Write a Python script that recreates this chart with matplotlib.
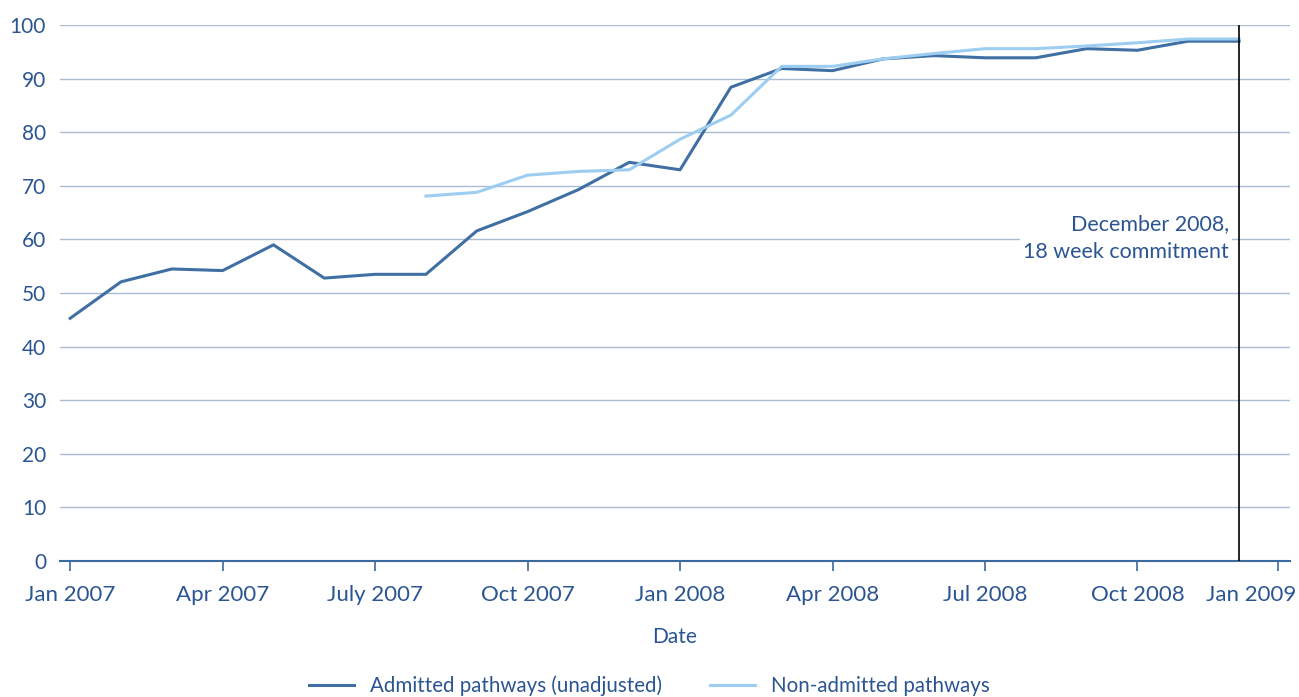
import matplotlib.pyplot as plt
import matplotlib.transforms as mtransforms
import numpy as np

months = ['Jan 2007', 'Feb 2007', 'Mar 2007', 'Apr 2007', 'May 2007', 'Jun 2007',
          'Jul 2007', 'Aug 2007', 'Sep 2007', 'Oct 2007', 'Nov 2007', 'Dec 2007',
          'Jan 2008', 'Feb 2008', 'Mar 2008', 'Apr 2008', 'May 2008', 'Jun 2008',
          'Jul 2008', 'Aug 2008', 'Sep 2008', 'Oct 2008', 'Nov 2008', 'Dec 2008']
admitted = [45.3, 52.1, 54.5, 54.2, 59.0, 52.8, 53.5, 53.5, 61.6, 65.2, 69.3, 74.4,
            73.0, 88.4, 91.9, 91.5, 93.7, 94.3, 93.9, 93.9, 95.6, 95.3, 97.0, 97.0]
# non-admitted series starts in Aug 2007
non_admitted = [None] * 7 + [68.1, 68.8, 72.0, 72.7, 73.0, 78.7, 83.2, 92.3, 92.3,
                             93.7, 94.7, 95.6, 95.6, 96.1, 96.7, 97.4, 97.4]
tick_labels = ['Jan 2007', 'Apr 2007', 'July 2007', 'Oct 2007', 'Jan 2008',
               'Apr 2008', 'Jul 2008', 'Oct 2008', 'Jan 2009']
tick_pos = [0, 3, 6, 9, 12, 15, 18, 21, 23.77]

txt = '#2b5592'
plt.rcParams['font.family'] = ['Lato', 'DejaVu Sans']

fig = plt.figure(figsize=(12.99, 6.97), dpi=100)
ax = fig.add_axes([0.0462, 0.195, 0.9468, 0.769])

x = np.arange(len(months))
na = np.array([np.nan if v is None else v for v in non_admitted])
ax.plot(x, admitted, color='#3f6fa3', lw=2.2, label='Admitted pathways (unadjusted)', zorder=3)
ax.plot(x, na, color='#9dcdf0', lw=2.2, label='Non-admitted pathways', zorder=3)

ax.set_xlim(-0.2, 24.0)
ax.set_ylim(0, 100)
ax.set_yticks(np.arange(0, 101, 10))
ax.yaxis.grid(True, color='#a9bcd4', lw=1)
ax.set_axisbelow(True)
for s in ['top', 'right', 'left']:
    ax.spines[s].set_visible(False)
ax.spines['bottom'].set_color('#3d6a9e')
ax.spines['bottom'].set_linewidth(1.5)
ax.tick_params(axis='y', length=0, pad=10, labelsize=15, labelcolor=txt)
ax.set_xticks(tick_pos)
ax.set_xticklabels(tick_labels)
ax.tick_params(axis='x', length=7, width=1.2, color='#3d6a9e', labelsize=16,
               labelcolor=txt, pad=10)
# last label sits left of its tick, as in the original
last = ax.get_xticklabels()[-1]
last.set_transform(last.get_transform() +
                   mtransforms.ScaledTranslation(-0.27, 0, fig.dpi_scale_trans))
ax.set_xlabel('Date', fontsize=15, color=txt, labelpad=16)

ax.axvline(23, color='black', lw=1.2, zorder=4)
ax.text(22.8, 60.2, 'December 2008,\n18 week commitment', ha='right', va='center',
        fontsize=15.5, color=txt, linespacing=1.5,
        bbox=dict(facecolor='white', edgecolor='none', pad=2))

fig.legend(loc='center', bbox_to_anchor=(0.5, 0.016), ncol=2, frameon=False,
           fontsize=14.8, labelcolor=txt, handlelength=2.2, columnspacing=2.3)

fig.savefig('out.png', dpi=100)
